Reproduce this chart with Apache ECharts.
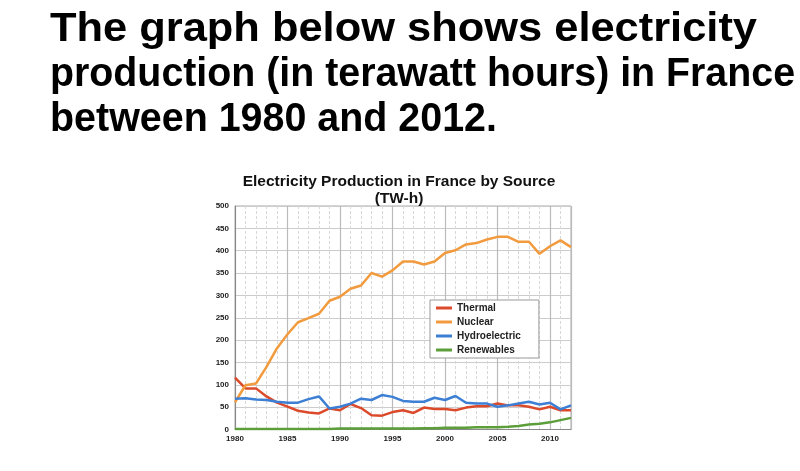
<!DOCTYPE html>
<html><head><meta charset="utf-8">
<script src="https://cdn.jsdelivr.net/npm/echarts@6/dist/echarts.min.js"></script>
<style>
html,body{margin:0;padding:0;background:#fff;overflow:hidden;}
.h{position:absolute;left:50px;font-family:"Liberation Sans",Arial,sans-serif;font-weight:bold;font-size:40px;line-height:44px;color:#000;white-space:nowrap;transform-origin:0 0;}
#chart{position:absolute;left:0;top:0;width:800px;height:471px;}
</style></head>
<body>
<div id="chart"></div>
<div class="h" id="h1" style="top:5px">The graph below shows electricity</div>
<div class="h" id="h2" style="top:50px">production (in terawatt hours) in France</div>
<div class="h" id="h3" style="top:95px">between 1980 and 2012.</div>
<script>
const years = [1980,1981,1982,1983,1984,1985,1986,1987,1988,1989,1990,1991,1992,1993,1994,1995,1996,1997,1998,1999,2000,2001,2002,2003,2004,2005,2006,2007,2008,2009,2010,2011,2012];
const thermal = [116,92,92,74,60,51,42,38,36,47,43,57,48,32,31,39,43,37,49,46,46,43,49,52,52,58,54,54,51,45,51,43,43];
const nuclear = [61,99,103,140,182,213,240,249,259,288,297,315,322,350,342,356,376,376,369,376,395,401,414,417,425,431,431,420,420,393,410,423,408];
const hydro = [69,70,67,66,62,60,60,68,74,47,51,58,69,66,77,73,64,62,62,71,66,75,60,58,58,51,54,58,62,56,60,45,54];
const renewables = [1,1,1,1,1,1,1,1,1,1,2,2,2,2,2,2,2,2,3,3,4,4,4,5,5,5,6,8,11,13,16,21,26];
const names = ['Thermal','Nuclear','Hydroelectric','Renewables'];
const colors = ['#dc4a2c','#f29b3e','#3c7fd4','#5c9e3a'];
const values = [thermal, nuclear, hydro, renewables];

// fit heading lines to the widths seen in the reference
[['h1',707],['h2',745],['h3',447]].forEach(([id,w])=>{
  const el=document.getElementById(id);
  const cur=el.getBoundingClientRect().width;
  el.style.transform='scaleX('+(w/cur)+')';
});

const chart = echarts.init(document.getElementById('chart'));
const font = '"Liberation Sans", Arial, sans-serif';
chart.setOption({
  animation:false,
  title:{text:'Electricity Production in France by Source\n(TW-h)',left:394,top:168,textAlign:'center',
    textStyle:{fontFamily:font,fontWeight:'bold',fontSize:15.5,lineHeight:17,color:'#111'}},
  grid:{left:235,right:229,top:206,height:223.5,show:true,borderColor:'#aaa',borderWidth:1},
  legend:{orient:'vertical',left:430,top:300,itemGap:4,itemWidth:16,itemHeight:3,icon:'rect',
    backgroundColor:'#fff',borderColor:'#999',borderWidth:1,padding:[3,18,3,6],
    textStyle:{fontFamily:font,fontWeight:'bold',fontSize:10,color:'#222'},data:names},
  xAxis:{type:'value',min:1980,max:2012,interval:5,
    axisLine:{show:true,lineStyle:{color:'#888'}},axisTick:{show:false},
    axisLabel:{fontFamily:font,fontWeight:'bold',fontSize:8,color:'#222',margin:5,showMaxLabel:false,formatter:v=>(v%5===0?String(v):'')},
    splitLine:{show:true,lineStyle:{color:'#bbb',width:1.2}},
    minorTick:{show:false,splitNumber:5},
    minorSplitLine:{show:true,lineStyle:{color:'#d8d8d8',type:[3,2],width:1}}},
  yAxis:{type:'value',min:0,max:500,interval:50,
    axisLine:{show:true,lineStyle:{color:'#888'}},axisTick:{show:false},
    axisLabel:{fontFamily:font,fontWeight:'bold',fontSize:8,color:'#222',margin:6},
    splitLine:{show:true,lineStyle:{color:'#ccc',width:1}}},
  series: names.map((n,i)=>({name:n,type:'line',symbol:'none',color:colors[i],
    lineStyle:{width:2.5,color:colors[i]},
    data: years.map((y,k)=>[y,values[i][k]])}))
});
</script>
</body></html>
